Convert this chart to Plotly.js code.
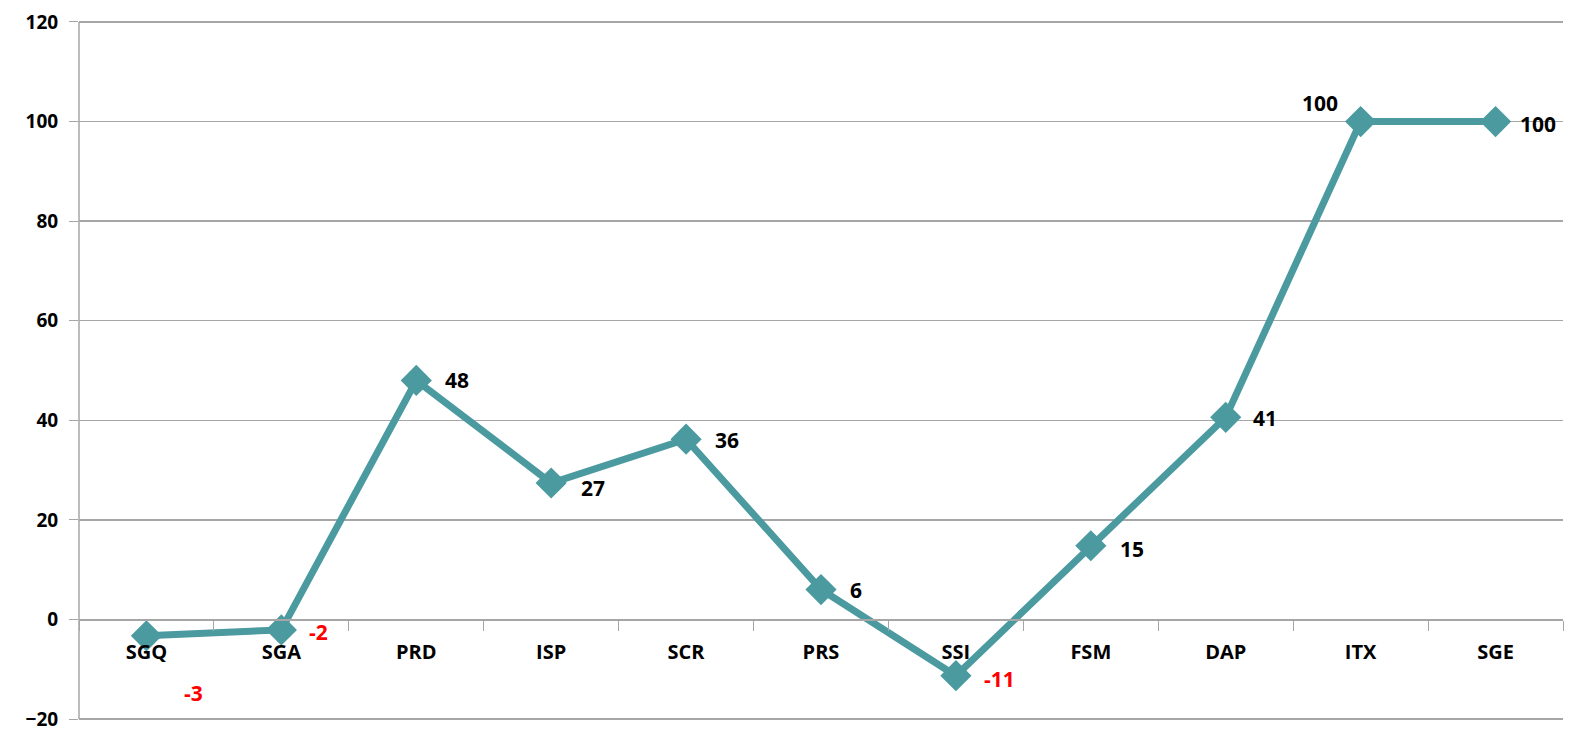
<!DOCTYPE html>
<html>
<head>
<meta charset="utf-8">
<script src="https://cdn.plot.ly/plotly-3.0.1.min.js"></script>
<style>
  html, body { margin: 0; padding: 0; background: #fff; }
  #chartDiv { width: 1571px; height: 731px; }
</style>
</head>
<body>
<div id="chartDiv"></div>
<script>
const categories = ["SGQ", "SGA", "PRD", "ISP", "SCR", "PRS", "SSI", "FSM", "DAP", "ITX", "SGE"];
const values = [-3.3, -2.1, 48, 27.4, 36.2, 6, -11.3, 14.8, 40.6, 100, 100];
const labelShiftX = [47, 37, 41, 42, 41, 35, 44, 41, 39, -41, 42];
const labelShiftY = [-57, -2, 0, -5, -1, 0, -3, -3, -1, 19, -2];

const lineColor = "#4A9AA0";
const gridColor = "#A6A6A6";
const font = "Open Sans, Noto Sans, sans-serif";

const trace = {
  x: categories,
  y: values,
  type: "scatter",
  mode: "lines+markers",
  line: { color: lineColor, width: 7 },
  marker: { symbol: "diamond", size: 24, color: lineColor },
  hoverinfo: "x+y",
  cliponaxis: false,
};

const annotations = categories.map((c, i) => ({
  x: c,
  y: values[i],
  text: "<b>" + Math.round(values[i]) + "</b>",
  showarrow: false,
  xshift: labelShiftX[i],
  yshift: labelShiftY[i],
  font: { family: font, size: 21, color: values[i] < 0 ? "#FF0000" : "#000000" },
}));

// a little headroom so the -20 and 120 gridlines are kept
const yMin = -20.6, yMax = 120.6;

const layout = {
  width: 1571,
  height: 731,
  margin: { l: 79, r: 8, t: 19, b: 9 },
  paper_bgcolor: "#fff",
  plot_bgcolor: "#fff",
  showlegend: false,
  xaxis: {
    type: "category",
    anchor: "free",
    position: (0 - yMin) / (yMax - yMin),
    showline: true,
    linecolor: gridColor,
    linewidth: 1.5,
    showgrid: false,
    ticks: "outside",
    tickson: "boundaries",
    ticklen: 10,
    tickcolor: gridColor,
    ticklabelstandoff: 14,
    tickfont: { family: font, size: 20, color: "#000", weight: "bold" },
    range: [-0.5, 10.5],
    fixedrange: true,
  },
  yaxis: {
    range: [yMin, yMax],
    dtick: 20,
    tick0: 0,
    showline: false,
    gridcolor: gridColor,
    gridwidth: 1.5,
    zeroline: false,
    ticks: "outside",
    ticklen: 9,
    tickcolor: gridColor,
    ticklabelstandoff: 7,
    ticklabeloverflow: "allow",
    tickfont: { family: font, size: 19, color: "#000", weight: "bold" },
    fixedrange: true,
  },
  shapes: [{
    type: "line", xref: "paper", yref: "y",
    x0: 0, x1: 0, y0: -20, y1: 120,
    line: { color: gridColor, width: 1.5 },
  }],
  annotations: annotations,
};

Plotly.newPlot("chartDiv", [trace], layout, { displayModeBar: false, staticPlot: true });
</script>
</body>
</html>
